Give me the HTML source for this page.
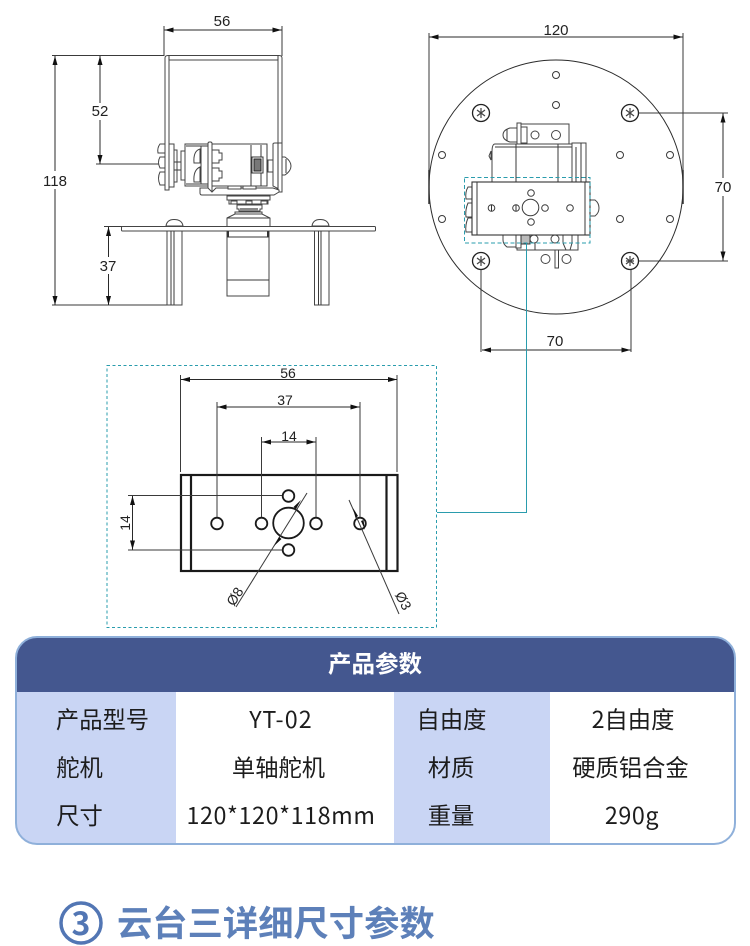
<!DOCTYPE html>
<html lang="zh">
<head>
<meta charset="utf-8">
<title>云台三详细尺寸参数</title>
<style>
html,body{margin:0;padding:0;background:#fff;}
body{width:750px;height:946px;overflow:hidden;position:relative;}
svg{position:absolute;left:0;top:0;}
.d{font-family:"Liberation Sans",sans-serif;font-size:15px;fill:#222;text-anchor:middle;}
.s{font-size:14px;}
.t{font-family:"Noto Sans CJK SC",sans-serif;font-size:23.300px;fill:#1c1c1c;text-anchor:middle;}
.l{fill:none;stroke:#3a3a3a;stroke-width:1;}
.m{fill:#fff;stroke:#444;stroke-width:1;}
.a{fill:none;stroke:#2a2a2a;stroke-width:1;marker-start:url(#ar);marker-end:url(#ar);}
.b{fill:none;stroke:#1a1a1a;stroke-width:2.200;}
</style>
</head>
<body>
<svg width="750" height="946" viewBox="0 0 750 946" xmlns="http://www.w3.org/2000/svg">
<defs>
<marker id="ar" viewBox="0 0 9 5" refX="9" refY="2.500" markerWidth="9" markerHeight="5" markerUnits="userSpaceOnUse" orient="auto-start-reverse">
<path d="M0 0L9 2.500L0 5Z" fill="#111"/>
</marker>
<clipPath id="tc"><rect x="16" y="637" width="719" height="207" rx="21" ry="21"/></clipPath>
</defs>

<!-- LEFT VIEW dimensions -->
<path class="l" d="M164 26V56M282 26V56M52 55.500H164M52 305H167M96 164H160M104 226.500H122"/>
<path class="a" d="M164.500 30H281.500"/>
<path class="a" d="M55 56V305"/>
<path class="a" d="M100 56V164"/>
<path class="a" d="M108.500 227V305"/>
<rect x="45" y="171" width="20" height="18" fill="#fff"/>
<rect x="92" y="103" width="18" height="17" fill="#fff"/>
<rect x="99" y="257" width="18" height="17" fill="#fff"/>
<text class="d" x="222" y="26">56</text>
<text class="d" x="55" y="186">118</text>
<text class="d" x="100" y="116">52</text>
<text class="d" x="108" y="271">37</text>

<!-- bracket -->
<path class="m" d="M165 58Q165 55.500 168 55.500H279Q282 55.500 282 58V143H278V60H169V190H165Z"/>
<path class="l" d="M169 56V60M278 56V60"/>
<!-- left bumps -->
<path class="m" d="M165 144H160Q157 148 158 153H165ZM165 157H160Q157 162 160 168H165ZM165 172H160Q157 178 160 185H165Z"/>
<rect class="m" x="169" y="144" width="5" height="43"/>
<rect class="m" x="174" y="150" width="3" height="32"/>
<path class="l" d="M174 162H181V170H174"/>
<rect class="m" x="181" y="151" width="5" height="29"/>
<!-- servo body -->
<rect class="m" x="185" y="144" width="82" height="42"/>
<path class="l" d="M186 146H208M186 184H208M201 146V184M251 145V186M261 145V186M267 145V186"/>
<path class="m" d="M200 149Q193 151 194 163H200ZM200 167Q193 170 194 182H200Z"/>
<rect x="252" y="157" width="11" height="16" fill="#fff" stroke="#333"/>
<rect x="254" y="159" width="7" height="12" fill="#777" stroke="#222"/>
<rect class="m" x="208" y="142" width="4" height="52" rx="1.500"/>
<path class="m" d="M212 150H219V153H222V160H219V163H212ZM212 168H219V171H222V178H219V181H212Z"/>
<path class="m" d="M268 160H273V172H268Z"/>
<path class="m" d="M273 144Q273 143 275 143H282V192H277V188L273 186Z"/>
<path class="l" d="M278 143V190"/>
<path class="m" d="M282 157H285Q291 161 291 166Q291 171 285 175H282Z"/>
<path class="l" d="M286 159V173"/>
<!-- base of bracket -->
<path class="m" d="M200 188H208L212 192L216 188H273L279 190V192L274 195H202Q200 195 200 193Z"/>
<rect class="m" x="228" y="186" width="13" height="3"/>
<rect class="m" x="243" y="186" width="13" height="3"/>
<rect class="m" x="227" y="196" width="43" height="4"/>
<path class="m" d="M229 200H268V204H229ZM231 201H237V204H231ZM246 201H252V204H246ZM261 201H267V204H261Z"/>
<path class="m" d="M237 205H262V209H260V211H239V209H237Z"/>
<rect x="240" y="208" width="18" height="3" fill="#888"/>
<path class="m" d="M235 212H262V218H235Z"/>
<path class="m" d="M227 218L235 214H262L270 218V226.500H227Z"/>
<path class="l" d="M227 218H270"/>
<!-- plate -->
<rect class="m" x="121.500" y="226.500" width="254" height="4.500" rx="1"/>
<path class="m" d="M166 226Q167 219.500 174 219.500Q182 219.500 183 226ZM312 226Q313 219.500 320 219.500Q328 219.500 329 226Z"/>
<!-- legs -->
<rect class="m" x="167" y="231" width="15" height="74"/>
<path class="l" d="M171 231V305M174 231V305"/>
<rect class="m" x="314.500" y="231" width="14.500" height="74"/>
<path class="l" d="M318.500 231V305M321 231V305"/>
<!-- motor -->
<path class="m" d="M227 231H269V296H227Z"/>
<path class="l" d="M227 237H269M227 280H269"/>
<rect x="227" y="231" width="2" height="6" fill="#333"/><rect x="267" y="231" width="2" height="6" fill="#333"/>

<!-- RIGHT VIEW -->
<path class="l" d="M429 33V187M683 33V187M638 113H728M638 261H728M481 270V352M631 270V352"/>
<path class="a" d="M429.500 37H682.500"/>
<path class="a" d="M723 113.500V260.500"/>
<path class="a" d="M482 350H630.500"/>
<circle cx="556" cy="187" r="127" fill="none" stroke="#2a2a2a" stroke-width="1"/>
<path d="M429 170V204M683 170V204" stroke="#333" stroke-width="1.500" fill="none"/>
<rect x="714" y="178" width="18" height="18" fill="#fff"/>
<text class="d" x="723" y="192">70</text>
<text class="d" x="556" y="35">120</text>
<text class="d" x="555" y="346">70</text>
<g class="l">
<circle cx="556" cy="75" r="3.500"/><circle cx="556" cy="105" r="3.500"/>
<circle cx="442" cy="155" r="3.500"/><circle cx="620" cy="155" r="3.500"/><circle cx="670" cy="155" r="3.500"/>
<circle cx="442" cy="219" r="3.500"/><circle cx="620" cy="219" r="3.500"/><circle cx="670" cy="219" r="3.500"/>
</g>
<!-- screws -->
<g fill="#fff" stroke="#222" stroke-width="1.300">
<circle cx="481" cy="113" r="8.500"/><circle cx="630" cy="113" r="8.500"/><circle cx="481" cy="261" r="8.500"/><circle cx="630" cy="261" r="8.500"/>
</g>
<g fill="none" stroke="#444" stroke-width="1.200">
<path d="M477 110L485 116M485 110L477 116M481 108V118"/>
<path d="M626 110L634 116M634 110L626 116M630 108V118"/>
<path d="M477 258L485 264M485 258L477 264M481 256V266"/>
<path d="M626 258L634 264M634 258L626 264M630 256V266M626 261H634"/>
</g>
<!-- servo behind (right view) -->
<path class="m" d="M517 124H569V145H517Z"/>
<path class="m" d="M517 128H510Q503 130 503 135Q503 140 510 142H517Z"/>
<path class="l" d="M507 129V141"/>
<path class="m" d="M517 123H521V146H517ZM521 127H527V143H521Z"/>
<circle class="m" cx="535" cy="135" r="4"/><circle class="m" cx="556" cy="135" r="4.500"/>
<path class="m" d="M495 144H575V182H492V152Q492 144 495 144Z"/>
<path class="l" d="M516 144V182M558 144V182M495 147H572"/>
<path class="m" d="M572 143H586V182H572Z"/>
<path class="l" d="M576 147V182M581 143V182"/>
<path class="m" d="M491 151L489 156L491 160Z"/>
<!-- below box bits -->
<path class="m" d="M517 234H578V250H517Z"/>
<path class="m" d="M503 235H517V247H507Q503 244 503 240Z"/>
<path class="l" d="M535 242V250M570 235V250"/>
<rect class="m" x="516" y="235" width="5" height="13"/>
<rect x="521" y="235" width="9" height="9" fill="#bbb" stroke="#333"/>
<circle class="m" cx="534" cy="239" r="4"/><circle class="m" cx="555" cy="239" r="4"/>
<path class="m" d="M563 235H572V243L570 250H566L563 243Z"/>
<rect class="m" x="555" y="250" width="3.500" height="18"/>
<circle class="m" cx="545.500" cy="259" r="4.500"/><circle class="m" cx="566.500" cy="259" r="4.500"/>
<!-- bumps left/right -->
<path class="m" d="M472 187H468Q465 192 466 199H472ZM472 203H468Q465 210 466 217H472ZM472 218H468Q465 225 466 232H472Z"/>
<path class="m" d="M590 200H595Q599 203 599 208Q599 213 595 216H590Z"/>
<!-- top servo block -->
<rect x="472" y="182" width="118" height="53" fill="#fff" stroke="#333" stroke-width="1.100"/>
<path class="l" d="M477 182V235M585 182V235"/>
<g class="l" fill="#fff">
<circle cx="530.500" cy="207.500" r="8.300"/>
<circle cx="531" cy="193" r="3.300"/><circle cx="531" cy="222" r="3.300"/>
<circle cx="516" cy="208" r="3.300"/><circle cx="545" cy="208" r="3.300"/>
<circle cx="491.500" cy="208" r="3.300"/><circle cx="570" cy="208" r="3.300"/>
</g>
<path d="M491.500 205V211M516 205V211" stroke="#333" fill="none"/>
<!-- teal annotations -->
<rect x="464.500" y="177.500" width="125.500" height="65.500" fill="none" stroke="#2a9cad" stroke-width="1" stroke-dasharray="4 2.500"/>
<path d="M526.500 243V512.500H437" fill="none" stroke="#2a9cad" stroke-width="1"/>
<rect x="107" y="365.500" width="329.500" height="262" fill="none" stroke="#2a9cad" stroke-width="1" stroke-dasharray="3 2.500"/>

<!-- DETAIL -->
<rect class="b" x="181" y="475" width="216.500" height="96"/>
<path class="b" d="M191 475V571M386.500 475V571"/>
<g class="b" style="stroke-width:1.800">
<circle cx="217" cy="523.500" r="5.800"/><circle cx="261.500" cy="523.500" r="5.800"/><circle cx="316" cy="523.500" r="5.800"/><circle cx="360" cy="523.500" r="5.800"/>
<circle cx="288.500" cy="496" r="5.800"/><circle cx="288.500" cy="550" r="5.800"/><circle cx="288.500" cy="523" r="15.300"/>
</g>
<path class="l" d="M180.500 375V472M397 375V472M217 402V517M360 402V517M261.500 437V517M316 437V517M128 495.500H282M128 550H282"/>
<path class="l" d="M236 607L307 493"/>
<path class="l" d="M349 500L399 614"/>
<path class="a" d="M181 379.500H397"/>
<path class="a" d="M217.500 407H359.500"/>
<path class="a" d="M262 442H315.500"/>
<path class="a" d="M132.500 496V549.500"/>
<path d="M301 500L296 509L293.500 507ZM274 546L279 537L281.500 539Z" fill="#111"/>
<path d="M353 508L358 516L355.500 518ZM365 530L361 521L363.500 520Z" fill="#111"/>
<text class="d s" x="288" y="378">56</text>
<text class="d s" x="285" y="405">37</text>
<text class="d s" x="289" y="441">14</text>
<text class="d s" transform="translate(130 523) rotate(-90)">14</text>
<text class="d s" transform="translate(239 599) rotate(-58)">Ø8</text>
<text class="d s" transform="translate(399 603) rotate(62)">Ø3</text>

<!-- TABLE -->
<g clip-path="url(#tc)">
<rect x="16" y="637" width="719" height="207" fill="#fff"/>
<rect x="16" y="637" width="719" height="55" fill="#44578f"/>
<rect x="16" y="692" width="160" height="152" fill="#c9d5f4"/>
<rect x="394" y="692" width="156" height="152" fill="#c9d5f4"/>
</g>
<rect x="16" y="637" width="719" height="207" rx="21" ry="21" fill="none" stroke="#8fb0da" stroke-width="2"/>
<text class="t" x="375" y="672" style="fill:#fff;font-weight:700;font-size:23.500px">产品参数</text>
<text class="t" x="102.500" y="728">产品型号</text>
<text class="t" x="281" y="728" style="letter-spacing:1.100px">YT-02</text>
<text class="t" x="451.500" y="728">自由度</text>
<text class="t" x="633" y="728">2自由度</text>
<text class="t" x="79.500" y="776">舵机</text>
<text class="t" x="278.500" y="776">单轴舵机</text>
<text class="t" x="451" y="776">材质</text>
<text class="t" x="630.500" y="776">硬质铝合金</text>
<text class="t" x="79.500" y="824">尺寸</text>
<text class="t" x="281" y="824" style="letter-spacing:.6px">120*120*118mm</text>
<text class="t" x="451" y="824">重量</text>
<text class="t" x="632" y="824" style="letter-spacing:.6px">290g</text>

<!-- FOOTER -->
<circle cx="81" cy="923" r="20" fill="none" stroke="#5276b4" stroke-width="3.500"/>
<text x="81" y="935" style="font-family:'Noto Sans CJK SC',sans-serif;font-size:32px;font-weight:700;fill:#5276b4;text-anchor:middle">3</text>
<text x="117" y="936" style="font-family:'Noto Sans CJK SC',sans-serif;font-size:35.300px;font-weight:700;fill:#5d80b9">云台三详细尺寸参数</text>
</svg>
</body>
</html>
